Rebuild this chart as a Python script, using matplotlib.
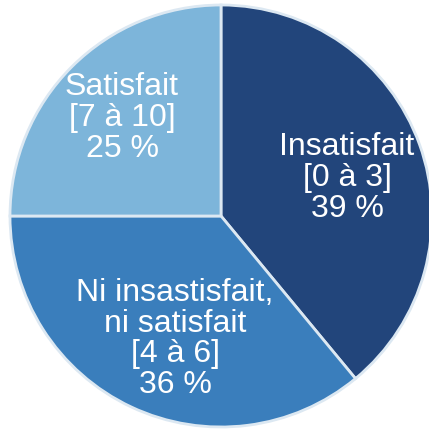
import matplotlib
matplotlib.use("Agg")
import matplotlib.pyplot as plt

labels = ["Insatisfait\n[0 à 3]\n39 %",
          "Ni insastisfait,\nni satisfait\n[4 à 6]\n36 %",
          "Satisfait\n[7 à 10]\n25 %"]
values = [39, 36, 25]
colors = ["#22457b", "#3a7ebc", "#7db5da"]

W, H = 429, 431
fig = plt.figure(figsize=(W / 100, H / 100), dpi=100)
ax = fig.add_axes([0, 0, 1, 1])
ax.set_xlim(0, W)
ax.set_ylim(0, H)
ax.set_aspect("equal")
ax.axis("off")

cx, cy, r = 221, H - 217, 211
ax.pie(values, colors=colors, startangle=90, counterclock=False,
       center=(cx, cy), radius=r,
       wedgeprops=dict(edgecolor="#dce8f2", linewidth=2))
ax.set_xlim(0, W)
ax.set_ylim(0, H)

label_pos = [(347, H - 178), (175, H - 339), (122, H - 118)]
for txt, (x, y) in zip(labels, label_pos):
    ax.text(x, y, txt, ha="center", va="center", color="white",
            fontsize=23, family="Liberation Sans", linespacing=1.04)

fig.savefig("out.png", dpi=100)
